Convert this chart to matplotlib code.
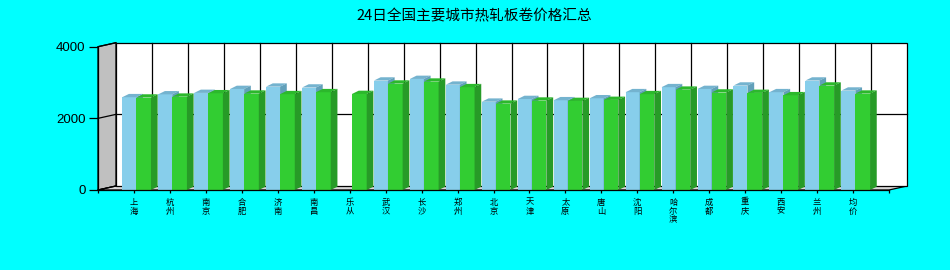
import numpy as np
import matplotlib
matplotlib.use("Agg")
import matplotlib.pyplot as plt
from matplotlib.patches import Polygon, Rectangle

plt.rcParams['font.family'] = ['Noto Sans CJK SC', 'DejaVu Sans']

title = "24日全国主要城市热轧板卷价格汇总"
cities = ["上海", "杭州", "南京", "合肥", "济南", "南昌", "乐从", "武汉", "长沙", "郑州",
          "北京", "天津", "太原", "唐山", "沈阳", "哈尔滨", "成都", "重庆", "西安", "兰州", "均价"]
series_blue = [2590, 2670, 2710, 2820, 2885, 2860, np.nan, 3055, 3100, 2940,
               2465, 2540, 2505, 2560, 2730, 2870, 2820, 2915, 2730, 3055, 2775]
series_green = [2580, 2605, 2700, 2690, 2675, 2730, 2680, 2970, 3025, 2870,
                2410, 2495, 2485, 2515, 2675, 2800, 2720, 2710, 2645, 2915, 2690]
yticks = [0, 2000, 4000]

W, H, DPI = 950, 270, 100
fig = plt.figure(figsize=(W / DPI, H / DPI), dpi=DPI, facecolor="#00FFFF")

# front frame in pixels
L, R, B, T = 98, 889, 190, 46.7
ax = fig.add_axes([L / W, 1 - B / H, (R - L) / W, (B - T) / H])
ax.set_facecolor("none")
n = len(cities)
ax.set_xlim(0, n + 1)
ax.set_ylim(0, 4000)

# conversions pixel -> data
px_x = (n + 1) / (R - L)
px_y = 4000 / (B - T)

# wall depth
wdx, wdy = 18 * px_x, 4 * px_y
# bar depth
bdx, bdy = 6.7 * px_x, 3.3 * px_y

xmax = n + 1
ymax = 4000
# side wall
ax.add_patch(Polygon([(0, 0), (0, ymax), (wdx, ymax + wdy), (wdx, wdy)], closed=True,
                     facecolor="#C0C0C0", edgecolor="black", lw=0.9, clip_on=False, zorder=0.5))
# floor
ax.add_patch(Polygon([(0, 0), (xmax, 0), (xmax + wdx, wdy), (wdx, wdy)], closed=True,
                     facecolor="#D8D8D8", edgecolor="black", lw=0.9, clip_on=False, zorder=0.5))
# back wall
ax.add_patch(Rectangle((wdx, wdy), xmax, ymax, facecolor="white", edgecolor="black",
                       lw=0.9, clip_on=False, zorder=0.6))
# gridlines on back wall and side wall
for v in yticks[1:-1]:
    ax.plot([wdx, xmax + wdx], [v + wdy, v + wdy], color="black", lw=0.9, clip_on=False, zorder=0.8)
for v in yticks:
    ax.plot([0, wdx], [v, v + wdy], color="black", lw=0.9, clip_on=False, zorder=0.8)
for k in range(1, n + 1):
    ax.plot([k + wdx, k + wdx], [wdy, ymax + wdy], color="black", lw=0.9, clip_on=False, zorder=0.8)

# bar geometry (offset from category tick, in pixels)
b0, b1, g1 = -11.7 * px_x, 2.3 * px_x, 17.0 * px_x

def bar3d(x0, x1, h, front, top, side, z):
    ax.add_patch(Rectangle((x0, 0), x1 - x0, h, facecolor=front, edgecolor="none", zorder=z, clip_on=False))
    ax.add_patch(Polygon([(x0, h), (x1, h), (x1 + bdx, h + bdy), (x0 + bdx, h + bdy)], closed=True,
                         facecolor=top, edgecolor="none", zorder=z, clip_on=False))
    ax.add_patch(Polygon([(x1, 0), (x1, h), (x1 + bdx, h + bdy), (x1 + bdx, bdy)], closed=True,
                         facecolor=side, edgecolor="none", zorder=z, clip_on=False))

z = 3
for i in range(n):
    xc = i + 1
    vb = series_blue[i]
    vg = series_green[i]
    if not np.isnan(vb):
        bar3d(xc + b0, xc + b1, vb, "#87CEEB", "#74B3CF", "#62A0BA", z)
    z += 0.01
    if not np.isnan(vg):
        bar3d(xc + b1, xc + g1, vg, "#32CD32", "#2CB82C", "#279B27", z)
    z += 0.01

# axes styling
for s in ["top", "right"]:
    ax.spines[s].set_visible(False)
for s in ["left", "bottom"]:
    ax.spines[s].set_color("black")
    ax.spines[s].set_linewidth(0.9)
    ax.spines[s].set_zorder(10)

ax.set_yticks(yticks)
ax.set_yticklabels([str(v) for v in yticks], family=["Liberation Sans", "DejaVu Sans"], fontsize=9.5)
ax.tick_params(axis="y", length=6.5, width=0.9, pad=2.5, colors="black")

ax.set_xticks(range(0, n + 2))
ax.set_xticklabels([""] + ["\n".join(c) for c in cities] + [""], fontsize=6, linespacing=1.0)
ax.tick_params(axis="x", length=2.5, width=0.9, pad=3, colors="black")

fig.text(474 / W, 1 - 16 / H, title, ha="center", va="center", fontsize=10.5, color="black",
         family=["Noto Sans CJK SC", "DejaVu Sans"])

fig.savefig("out.png", dpi=DPI, facecolor=fig.get_facecolor())
